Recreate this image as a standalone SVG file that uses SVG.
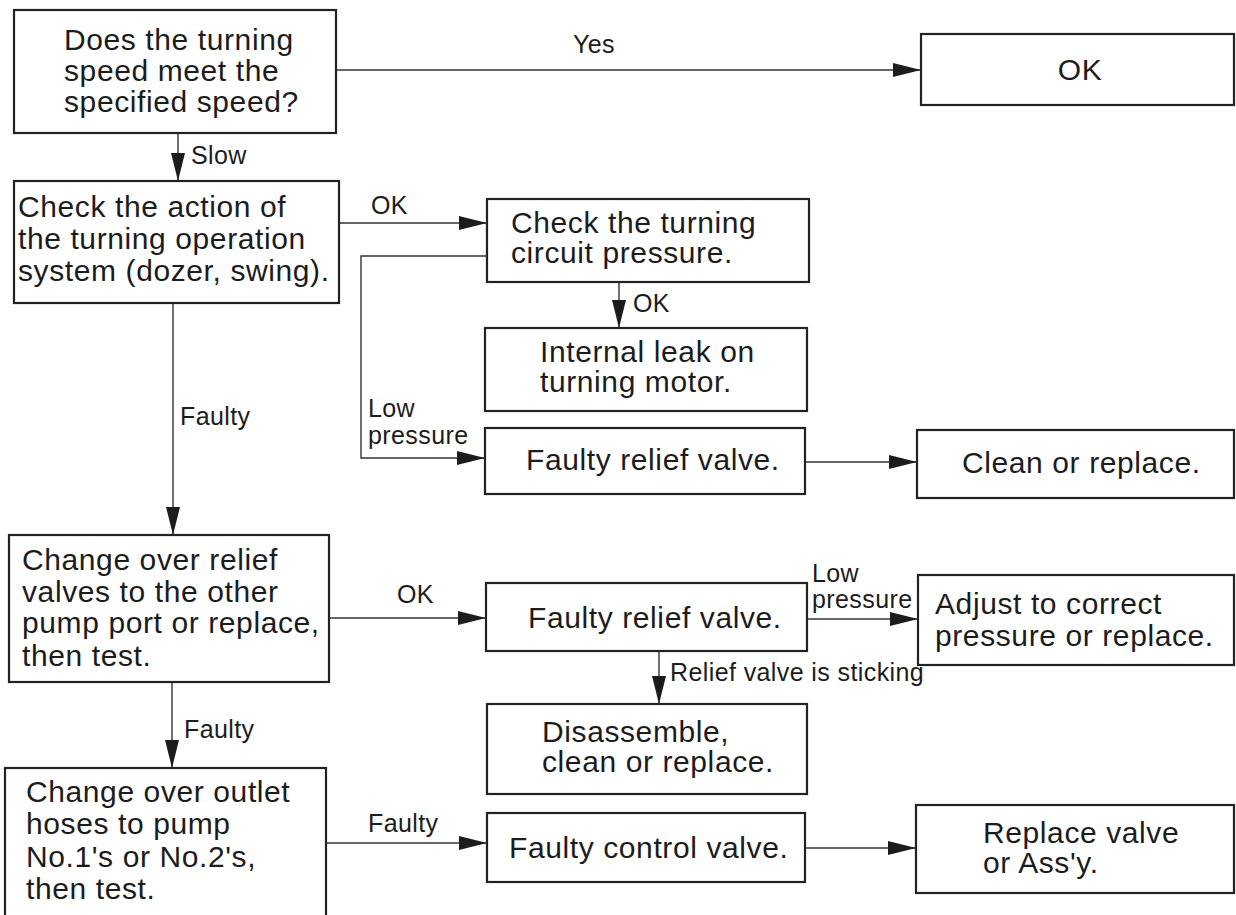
<svg xmlns="http://www.w3.org/2000/svg" width="1236" height="915" viewBox="0 0 1236 915">
  <style>
    .box { fill: #ffffff; stroke: #222222; stroke-width: 2.2; }
    .t { font-family: "Liberation Sans", Arial, Helvetica, sans-serif; font-size: 30px; letter-spacing: 0.6px; fill: #1c1c1c; }
    .lbl { font-family: "Liberation Sans", Arial, Helvetica, sans-serif; font-size: 25px; letter-spacing: 0.4px; fill: #1c1c1c; }
    .c { fill: none; stroke: #333333; stroke-width: 1.4; }
    .ca { fill: none; stroke: #333333; stroke-width: 1.4; marker-end: url(#ah); }
  </style>
  <defs>
    <marker id="ah" markerUnits="userSpaceOnUse" markerWidth="29" markerHeight="15" refX="28" refY="7" orient="auto">
      <path d="M0,0 L28,7 L0,14 Z" fill="#1c1c1c"/>
    </marker>
  </defs>
  <rect width="1236" height="915" fill="#ffffff"/>

  <g id="connectors">
    <line class="ca" x1="336" y1="70" x2="921" y2="70"/>
    <line class="ca" x1="178" y1="133" x2="178" y2="181"/>
    <line class="ca" x1="339" y1="223" x2="487" y2="223"/>
    <polyline class="ca" points="487,256 361,256 361,458 485,458"/>
    <line class="ca" x1="619" y1="282" x2="619" y2="328"/>
    <line class="ca" x1="805" y1="462" x2="917" y2="462"/>
    <line class="ca" x1="173" y1="303" x2="173" y2="535"/>
    <line class="ca" x1="329" y1="618" x2="486" y2="618"/>
    <line class="ca" x1="807" y1="619" x2="918" y2="619"/>
    <line class="ca" x1="659" y1="651" x2="659" y2="704"/>
    <line class="ca" x1="172" y1="682" x2="172" y2="768"/>
    <line class="ca" x1="326" y1="843" x2="487" y2="843"/>
    <line class="ca" x1="805" y1="848" x2="916" y2="848"/>
    <text class="lbl" x="573" y="53">Yes</text>
    <text class="lbl" x="191" y="164">Slow</text>
    <text class="lbl" x="371" y="214">OK</text>
    <text class="lbl" x="368" y="417">Low</text>
    <text class="lbl" x="368" y="444">pressure</text>
    <text class="lbl" x="633" y="312">OK</text>
    <text class="lbl" x="180" y="425">Faulty</text>
    <text class="lbl" x="397" y="603">OK</text>
    <text class="lbl" x="812" y="582">Low</text>
    <text class="lbl" x="812" y="608">pressure</text>
    <text class="lbl" x="670" y="681">Relief valve is sticking</text>
    <text class="lbl" x="184" y="738">Faulty</text>
    <text class="lbl" x="368" y="832">Faulty</text>
  </g>

  <g id="n-speed">
    <rect class="box" x="14" y="10" width="322" height="123"/>
    <text class="t" x="64" y="50">Does the turning</text>
    <text class="t" x="64" y="81">speed meet the</text>
    <text class="t" x="64" y="112">specified speed?</text>
  </g>
  <g id="n-ok">
    <rect class="box" x="921" y="34" width="313" height="71"/>
    <text class="t" x="1080" y="80" text-anchor="middle">OK</text>
  </g>
  <g id="n-check-action">
    <rect class="box" x="14" y="181" width="325" height="122"/>
    <text class="t" x="18" y="217">Check the action of</text>
    <text class="t" x="18" y="249">the turning operation</text>
    <text class="t" x="18" y="281">system (dozer, swing).</text>
  </g>
  <g id="n-check-pressure">
    <rect class="box" x="487" y="199" width="322" height="83"/>
    <text class="t" x="511" y="233">Check the turning</text>
    <text class="t" x="511" y="263">circuit pressure.</text>
  </g>
  <g id="n-internal-leak">
    <rect class="box" x="485" y="328" width="322" height="83"/>
    <text class="t" x="540" y="362">Internal leak on</text>
    <text class="t" x="540" y="392">turning motor.</text>
  </g>
  <g id="n-faulty-relief-1">
    <rect class="box" x="485" y="428" width="320" height="66"/>
    <text class="t" x="526" y="470">Faulty relief valve.</text>
  </g>
  <g id="n-clean">
    <rect class="box" x="917" y="430" width="317" height="68"/>
    <text class="t" x="962" y="473">Clean or replace.</text>
  </g>
  <g id="n-change-relief">
    <rect class="box" x="9" y="535" width="320" height="147"/>
    <text class="t" x="22" y="570">Change over relief</text>
    <text class="t" x="22" y="602">valves to the other</text>
    <text class="t" x="22" y="633">pump port or replace,</text>
    <text class="t" x="22" y="666">then test.</text>
  </g>
  <g id="n-faulty-relief-2">
    <rect class="box" x="486" y="583" width="321" height="68"/>
    <text class="t" x="528" y="628">Faulty relief valve.</text>
  </g>
  <g id="n-adjust">
    <rect class="box" x="918" y="575" width="316" height="90"/>
    <text class="t" x="935" y="614">Adjust to correct</text>
    <text class="t" x="935" y="646">pressure or replace.</text>
  </g>
  <g id="n-disassemble">
    <rect class="box" x="487" y="704" width="320" height="90"/>
    <text class="t" x="542" y="742">Disassemble,</text>
    <text class="t" x="542" y="772">clean or replace.</text>
  </g>
  <g id="n-change-hoses">
    <rect class="box" x="5" y="768" width="321" height="170"/>
    <text class="t" x="26" y="802">Change over outlet</text>
    <text class="t" x="26" y="834">hoses to pump</text>
    <text class="t" x="26" y="867">No.1's or No.2's,</text>
    <text class="t" x="26" y="899">then test.</text>
  </g>
  <g id="n-faulty-control">
    <rect class="box" x="487" y="813" width="318" height="69"/>
    <text class="t" x="509" y="858">Faulty control valve.</text>
  </g>
  <g id="n-replace">
    <rect class="box" x="916" y="805" width="318" height="88"/>
    <text class="t" x="983" y="843">Replace valve</text>
    <text class="t" x="983" y="873">or Ass'y.</text>
  </g>
</svg>
